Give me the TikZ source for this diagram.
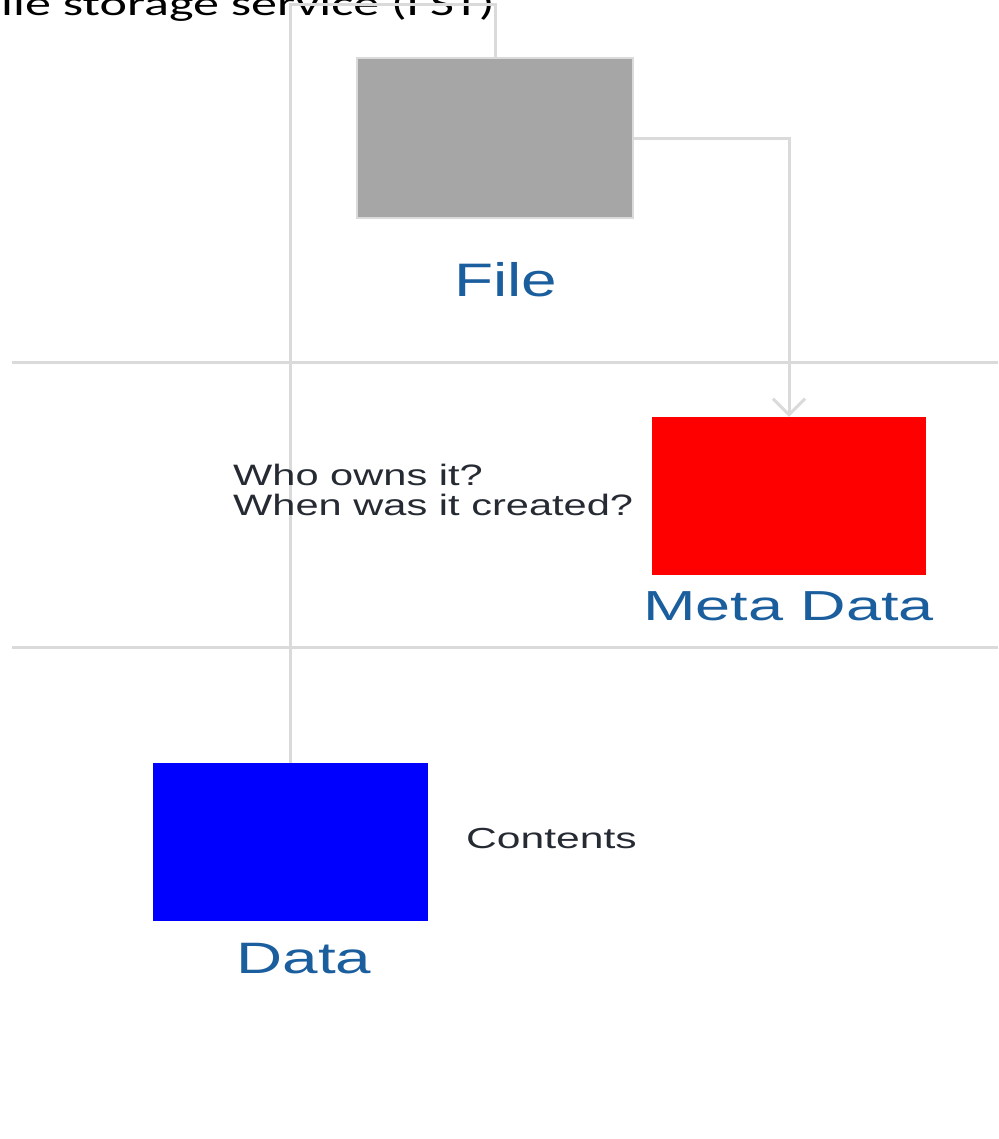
\documentclass[tikz,border=0pt]{standalone}
\usepackage{fontspec}
\setmainfont{Liberation Sans}
\newfontfamily\labfont{Liberation Sans}
\newfontfamily\titlefont{Carlito}
\usetikzlibrary{arrows.meta}
\definecolor{linegray}{HTML}{DADADA}
\definecolor{boxgray}{HTML}{A6A6A6}
\definecolor{labblue}{HTML}{1B5E9E}
\definecolor{textdark}{HTML}{262A33}
\begin{document}
\begin{tikzpicture}[x=1pt,y=-1pt,
  conn/.style={draw=linegray,line width=3pt},
  boxnode/.style={rectangle,inner sep=0pt,draw=none},
  biglabel/.style={anchor=base,inner sep=0pt,text=labblue},
  smalltext/.style={anchor=base west,inner sep=0pt,text=textdark,font=\labfont\fontsize{29.5}{33}\selectfont}]
\useasboundingbox (0,0) rectangle (998,1139);
\clip (0,0) rectangle (998,1139);
% title (cut at the top edge)
\node[anchor=base west,inner sep=0pt,text=black,font=\titlefont\fontsize{34.5}{40}\selectfont] (title) at (1,15.5) {\scalebox{1.51}[1]{ile storage service (FST)}};
% lane separators
\coordinate (l1a) at (12,362);
\coordinate (l1b) at (998,362);
\coordinate (l2a) at (12,647);
\coordinate (l2b) at (998,647);
\draw[conn] (l1a) -- (l1b);
\draw[conn] (l2a) -- (l2b);
% boxes
\node[boxnode,fill=boxgray,draw=linegray,line width=1.5pt,minimum width=276pt,minimum height=160pt] (file) at (495,138) {};
\node[boxnode,fill=red,minimum width=274pt,minimum height=158pt] (meta) at (789,496) {};
\node[boxnode,fill=blue,minimum width=275pt,minimum height=158pt] (data) at (290.5,842) {};
% connectors
\coordinate (topline) at (0,5);
\draw[conn] (data.north) -- (data.north |- topline) -| (file.north);
\draw[conn,-{Straight Barb[length=16pt,width=32pt,line width=3pt]}] (file.east |- 0,139) -| (meta.north);
% labels
\node[biglabel,font=\labfont\fontsize{47}{52}\selectfont] (filelab) at (505.5,297) {\scalebox{1.36}[1]{File}};
\node[biglabel,font=\labfont\fontsize{42}{48}\selectfont] (metalab) at (788.5,620) {\scalebox{1.5}[1]{Meta Data}};
\node[biglabel,font=\labfont\fontsize{44}{50}\selectfont] (datalab) at (304,973) {\scalebox{1.45}[1]{Data}};
\node[smalltext] (who1) at (233,485) {\scalebox{1.41}[1]{Who owns it?}};
\node[smalltext] (who2) at (233,515) {\scalebox{1.41}[1]{When was it created?}};
\node[smalltext,font=\labfont\fontsize{29}{33}\selectfont] (contents) at (466,848) {\scalebox{1.47}[1]{Contents}};
\end{tikzpicture}
\end{document}
